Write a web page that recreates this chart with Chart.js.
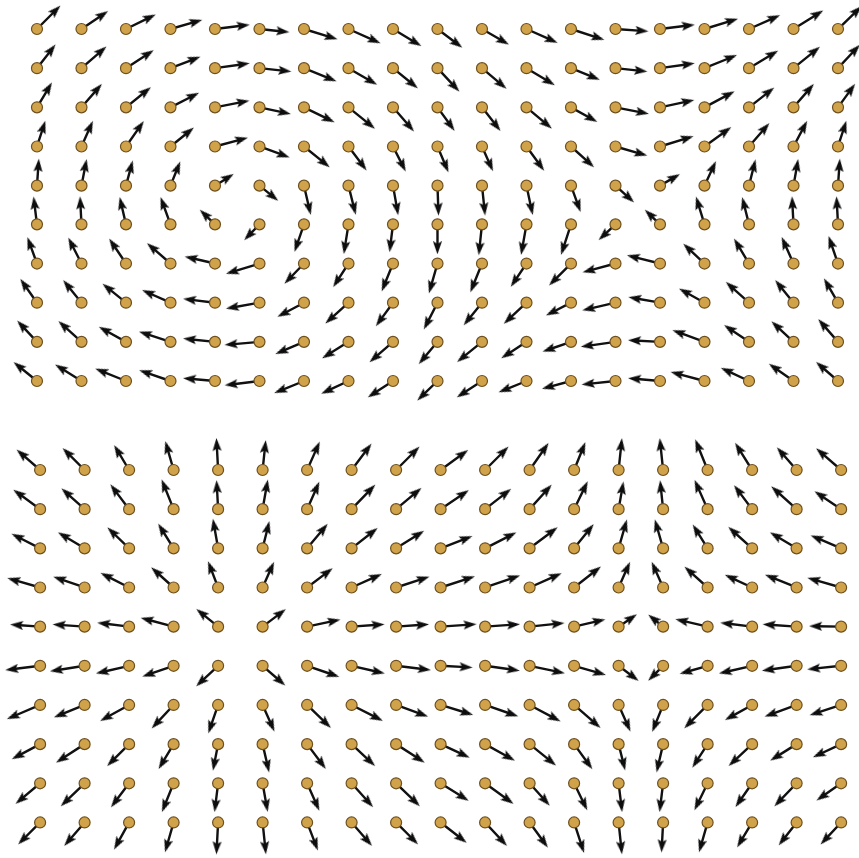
<!DOCTYPE html>
<html>
<head>
<meta charset="utf-8">
<script src="https://cdn.jsdelivr.net/npm/chart.js@4.4.0/dist/chart.umd.min.js"></script>
<style>
  html, body { margin: 0; padding: 0; background: #fff; }
  #contenedor { width: 859px; height: 858px; }
</style>
</head>
<body>
<div id="contenedor"><canvas id="campo"></canvas></div>
<script>
// Rejilla: columnas y filas de cada panel (unidades = separación de columnas)
const columnasSup = [0,1,2,3,4,5,6,7,8,9,10,11,12,13,14,15,16,17,18];
const columnasInf = [0.07,1.07,2.07,3.07,4.07,5.07,6.07,7.07,8.07,9.07,10.07,11.07,12.07,13.07,14.07,15.07,16.07,17.07,18.07];
const filasSup = [0, 0.88, 1.76, 2.64, 3.52, 4.39, 5.27, 6.15, 7.03, 7.91];
const filasInf = [9.91, 10.79, 11.67, 12.55, 13.43, 14.31, 15.19, 16.07, 16.95, 17.83];

// Panel superior: ángulo de cada flecha (grados, 0 = derecha, 90 = arriba)
const angulosSup = [
  [45,34,26,16,7,-6,-17,-24,-31,-37,-30,-24,-18,-4,7,17,24,32,44],
  [52,41,33,21,8,-6,-22,-30,-39,-47,-40,-31,-22,-6,8,22,31,39,47],
  [59,49,39,27,11,-12,-26,-39,-49,-54,-52,-40,-29,-11,12,28,38,49,54],
  [72,66,55,39,15,-20,-39,-53,-63,-67,-66,-54,-42,-16,17,36,49,62,72],
  [86,79,75,68,32,-39,-77,-76,-80,-88,-84,-78,-70,-42,30,65,76,80,86],
  [97,93,103,110,136,-134,-109,-99,-97,-90,-96,-100,-108,-137,136,107,104,93,93],
  [110,117,124,139,167,-163,-134,-123,-112,-106,-112,-124,-135,-165,166,137,121,114,109],
  [125,129,141,156,173,-170,-152,-138,-126,-117,-129,-137,-153,-167,170,151,138,129,120],
  [133,138,151,162,174,-175,-157,-148,-139,-130,-141,-147,-161,-172,177,160,146,137,131],
  [141,148,158,161,175,-173,-158,-155,-147,-136,-147,-158,-165,-174,175,165,155,145,139]
];
// Panel superior: largo de cada flecha (px)
const longitudesSup = [
  [33,32,33,33,35,30,35,35,33,31,31,34,35,33,35,35,34,35,33],
  [30,33,33,32,35,32,35,33,32,32,32,33,31,32,35,35,34,34,32],
  [29,31,32,32,35,32,34,34,32,29,30,33,30,34,35,34,32,31,29],
  [27,28,31,30,34,32,33,30,28,28,27,30,31,33,35,33,31,29,27],
  [27,27,26,26,22,24,30,30,30,30,30,30,28,25,23,27,27,27,27],
  [28,28,28,29,21,22,29,30,28,30,31,31,32,23,21,29,28,28,28],
  [28,29,30,31,31,35,28,28,30,31,31,28,31,34,34,29,29,29,29],
  [29,29,30,31,32,34,30,31,29,30,29,31,28,34,32,29,31,29,28],
  [29,31,31,33,32,35,31,31,31,29,32,30,30,35,32,34,30,30,30],
  [30,31,33,33,32,35,32,30,30,28,30,30,30,34,32,35,31,30,29]
];

// Panel inferior
const angulosInf = [
  [139,135,121,106,93,84,66,53,45,36,45,55,68,84,96,112,122,131,139],
  [144,138,127,112,93,80,66,46,40,34,38,48,64,80,96,114,127,138,146],
  [153,149,136,122,100,76,50,38,32,21,27,37,51,74,106,122,138,149,157],
  [164,161,153,138,111,66,37,24,18,18,19,24,38,66,114,138,155,158,164],
  [176,176,173,165,141,37,12,4,4,4,4,6,13,34,141,167,173,176,179],
  [-173,-171,-167,-161,-137,-41,-19,-13,-7,-3,-8,-12,-16,-37,-135,-164,-167,-172,-174],
  [-157,-158,-151,-133,-109,-66,-44,-27,-20,-17,-19,-28,-41,-66,-112,-135,-151,-160,-162],
  [-152,-147,-135,-121,-101,-77,-53,-43,-33,-25,-29,-39,-54,-76,-103,-123,-137,-148,-155],
  [-140,-136,-127,-112,-97,-80,-66,-48,-44,-32,-36,-48,-64,-83,-97,-116,-125,-134,-145],
  [-135,-131,-119,-106,-93,-84,-69,-49,-45,-38,-47,-54,-72,-84,-93,-106,-121,-128,-133]
];
const longitudesInf = [
  [31,31,29,30,32,30,31,33,33,34,33,33,30,32,32,33,32,30,33],
  [33,31,31,32,29,30,30,34,33,34,33,33,31,28,29,32,30,34,32],
  [32,31,30,29,30,28,32,33,33,34,35,35,31,30,30,28,32,31,33],
  [34,33,32,30,28,28,32,33,35,36,37,35,34,28,28,31,30,34,35],
  [30,32,32,34,28,29,34,33,33,36,35,35,32,22,19,33,32,34,32],
  [35,35,34,33,30,30,34,34,35,32,35,36,33,25,21,29,34,35,34],
  [36,33,33,32,30,29,33,35,34,34,35,35,35,29,29,33,31,34,33],
  [32,34,31,29,27,29,31,32,34,32,34,34,31,27,29,28,32,31,31],
  [32,33,30,31,29,29,30,32,33,33,35,30,30,29,29,30,29,32,30],
  [31,31,31,31,32,32,30,31,31,33,32,31,32,32,30,31,29,29,30]
];

const PX_POR_UNIDAD = 44.5;   // escala igual en x y en y
const MEDIA_PUNTA = 6.5;      // mitad del largo de la punta (px)

const puntos = [], lineas = [], puntas = [], giros = [];

function armarPanel(cols, filas, angulos, longitudes) {
  filas.forEach((y, r) => {
    cols.forEach((x, c) => {
      const a = angulos[r][c] * Math.PI / 180;
      const cuerpo = (longitudes[r][c] - MEDIA_PUNTA) / PX_POR_UNIDAD;
      const fx = x + Math.cos(a) * cuerpo;
      const fy = y - Math.sin(a) * cuerpo;
      puntos.push({ x: x, y: y });
      lineas.push({ x: x, y: y }, { x: fx, y: fy }, { x: null, y: null });
      puntas.push({ x: fx, y: fy });
      giros.push(90 - angulos[r][c]);
    });
  });
}
armarPanel(columnasSup, filasSup, angulosSup, longitudesSup);
armarPanel(columnasInf, filasInf, angulosInf, longitudesInf);

// punta de flecha alargada
const punta = document.createElement('canvas');
punta.width = 9; punta.height = 13;
const pc = punta.getContext('2d');
pc.fillStyle = '#0d0d0d';
pc.beginPath();
pc.moveTo(4.5, 0); pc.lineTo(9, 13); pc.lineTo(4.5, 10.5); pc.lineTo(0, 13);
pc.closePath(); pc.fill();

const ctx = document.getElementById('campo').getContext('2d');
new Chart(ctx, {
  type: 'scatter',
  data: {
    datasets: [
      {
        label: 'puntos',
        data: puntos,
        order: 0,
        pointRadius: 5.5,
        pointBackgroundColor: '#d0a24a',
        pointBorderColor: '#6e5020',
        pointBorderWidth: 1.2
      },
      {
        label: 'puntas',
        data: puntas,
        order: 1,
        pointStyle: punta,
        pointRotation: c => giros[c.dataIndex]
      },
      {
        label: 'flechas',
        data: lineas,
        order: 2,
        showLine: true,
        spanGaps: false,
        pointRadius: 0,
        borderColor: '#111111',
        borderWidth: 2.4
      }
    ]
  },
  options: {
    responsive: true,
    maintainAspectRatio: false,
    animation: false,
    events: [],
    layout: { padding: 0, autoPadding: false },
    plugins: { legend: { display: false }, tooltip: { enabled: false } },
    scales: {
      x: { type: 'linear', display: false, min: -0.831, max: 18.472 },
      y: { type: 'linear', display: false, reverse: true, min: -0.652, max: 18.629 }
    }
  }
});
</script>
</body>
</html>
